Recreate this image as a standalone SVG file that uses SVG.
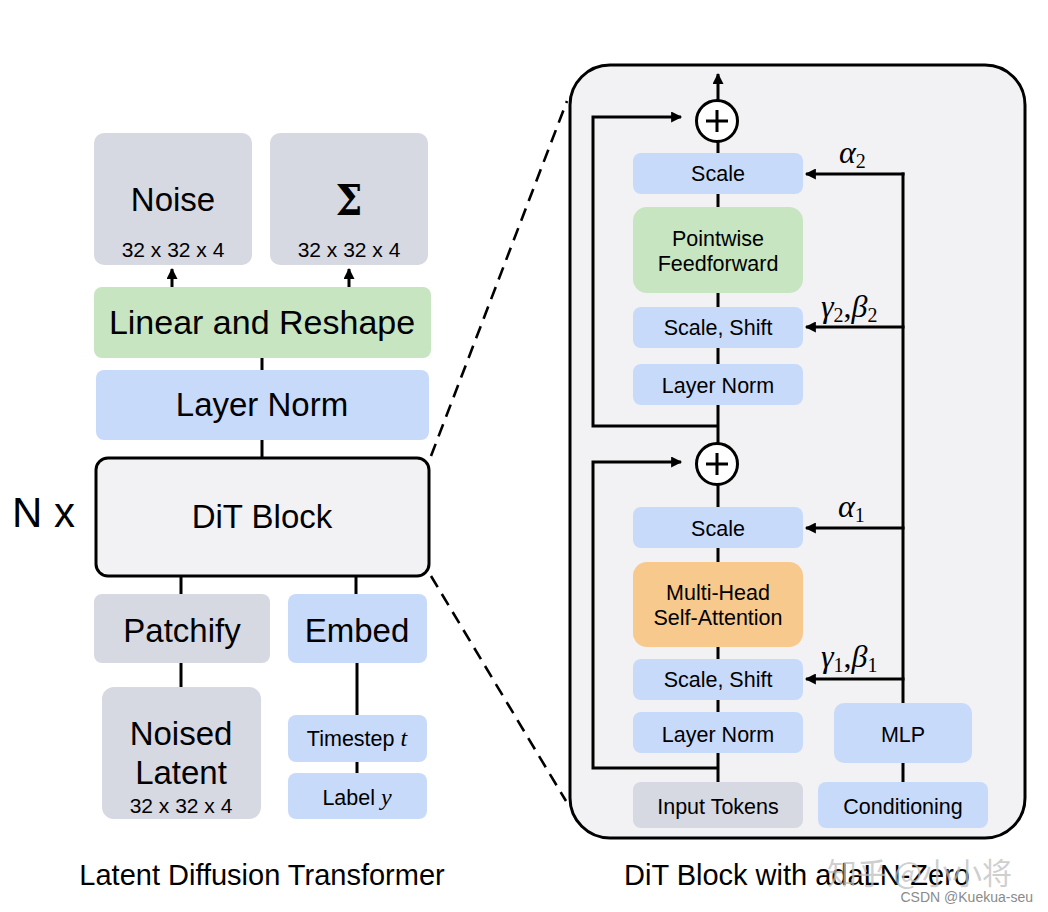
<svg xmlns="http://www.w3.org/2000/svg" width="1048" height="912" viewBox="0 0 1048 912">
<style>
.t{font-family:"Liberation Sans",Arial,sans-serif;fill:#000;text-anchor:middle}
.big{font-size:33px}
.mid{font-size:21.5px}
.ttl{font-size:29px}
.gray{fill:#d6d8e2}
.blue{fill:#c8dafa}
.green{fill:#c6e5c0}
.orange{fill:#f7c98c}
.ln{stroke:#000;stroke-width:3;fill:none}
.dash{stroke:#000;stroke-width:2.6;fill:none;stroke-dasharray:13 8}
.gk{font-family:"Liberation Serif","Times New Roman",serif;font-size:32px;fill:#000}
.sub{font-size:20px;font-style:normal}
.it{font-style:italic}
</style>
<defs>
<marker id="ah" viewBox="0 0 10 10" refX="9" refY="5" markerWidth="12" markerHeight="11" markerUnits="userSpaceOnUse" orient="auto">
<path d="M0,0 L10,5 L0,10 z" fill="#000"/>
</marker>
</defs>
<rect width="1048" height="912" fill="#fff"/>

<g id="connectors">
<line class="ln" x1="172" y1="287" x2="172" y2="269" marker-end="url(#ah)"/>
<line class="ln" x1="349" y1="287" x2="349" y2="269" marker-end="url(#ah)"/>
<line class="ln" x1="262" y1="358" x2="262" y2="370"/>
<line class="ln" x1="262" y1="440" x2="262" y2="458"/>
<line class="ln" x1="181" y1="576" x2="181" y2="594"/>
<line class="ln" x1="356" y1="576" x2="356" y2="594"/>
<line class="ln" x1="181" y1="663" x2="181" y2="687"/>
<line class="ln" x1="357" y1="663" x2="357" y2="715"/>
<line class="ln" x1="357" y1="762" x2="357" y2="773"/>
<line class="dash" x1="431" y1="456" x2="567" y2="101"/>
<line class="dash" x1="431" y1="576" x2="566" y2="801"/>
</g>

<g id="noise"><rect class="gray" x="94" y="133" width="158" height="132" rx="10"/>
<text class="t big" x="173" y="211">Noise</text>
<text class="t" style="font-size:21px" x="173" y="257">32 x 32 x 4</text></g>
<g id="sigma"><rect class="gray" x="270" y="133" width="158" height="132" rx="10"/>
<text x="349" y="215" style="font-family:'DejaVu Serif','Liberation Serif',serif;font-size:38px;font-weight:bold;text-anchor:middle" transform="translate(349 215) scale(1 1.12) translate(-349 -215)">Σ</text>
<text class="t" style="font-size:21px" x="349" y="257">32 x 32 x 4</text></g>
<g id="linear"><rect class="green" x="94" y="287" width="337" height="71" rx="8"/>
<text class="t" style="font-size:34px" x="262" y="334">Linear and Reshape</text></g>
<g id="layernorm"><rect class="blue" x="96" y="370" width="333" height="70" rx="8"/>
<text class="t big" x="262" y="416">Layer Norm</text></g>
<g id="nx"><text class="t" style="font-size:42px;text-anchor:start" x="12" y="527">N x</text></g>
<g id="ditblock"><rect x="96" y="458" width="333" height="118" rx="12" fill="#f2f2f4" stroke="#000" stroke-width="3"/>
<text class="t big" x="262" y="528">DiT Block</text></g>
<g id="patchify"><rect class="gray" x="94" y="594" width="176" height="69" rx="8"/>
<text class="t big" x="182" y="642">Patchify</text></g>
<g id="embed"><rect class="blue" x="288" y="594" width="139" height="69" rx="8"/>
<text class="t big" x="357" y="642">Embed</text></g>
<g id="noisedlatent"><rect class="gray" x="102" y="687" width="159" height="132" rx="12"/>
<text class="t big" x="181" y="745">Noised</text>
<text class="t big" x="181" y="784">Latent</text>
<text class="t" style="font-size:21px" x="181" y="813">32 x 32 x 4</text></g>
<g id="timestep"><rect class="blue" x="288" y="715" width="139" height="47" rx="8"/>
<text class="t mid" x="357" y="746">Timestep <tspan class="it" style="font-family:'Liberation Serif',serif;font-size:24px">t</tspan></text></g>
<g id="label"><rect class="blue" x="288" y="773" width="139" height="46" rx="8"/>
<text class="t mid" x="357" y="805">Label <tspan class="it" style="font-family:'Liberation Serif',serif;font-size:24px">y</tspan></text></g>
<g id="title-left"><text class="t ttl" x="262" y="885">Latent Diffusion Transformer</text></g>

<g id="panel"><rect x="570" y="65" width="455" height="773" rx="40" fill="#f2f2f4" stroke="#000" stroke-width="3"/></g>

<g id="connectors-right">
<line class="ln" x1="718" y1="100" x2="718" y2="74" marker-end="url(#ah)"/>
<polyline class="ln" points="718,426 593,426 593,117 681,117" marker-end="url(#ah)"/>
<line class="ln" x1="718" y1="142" x2="718" y2="153"/>
<line class="ln" x1="718" y1="194" x2="718" y2="207"/>
<line class="ln" x1="718" y1="293" x2="718" y2="307"/>
<line class="ln" x1="718" y1="348" x2="718" y2="364"/>
<line class="ln" x1="718" y1="405" x2="718" y2="443"/>
<polyline class="ln" points="718,768 593,768 593,462 681,462" marker-end="url(#ah)"/>
<line class="ln" x1="718" y1="485" x2="718" y2="507"/>
<line class="ln" x1="718" y1="548" x2="718" y2="562"/>
<line class="ln" x1="718" y1="647" x2="718" y2="659"/>
<line class="ln" x1="718" y1="700" x2="718" y2="712"/>
<line class="ln" x1="718" y1="753" x2="718" y2="782"/>
<line class="ln" x1="903" y1="703" x2="903" y2="172.5"/>
<line class="ln" x1="903" y1="763" x2="903" y2="782"/>
<line class="ln" x1="904.5" y1="174" x2="806" y2="174" marker-end="url(#ah)"/>
<line class="ln" x1="904.5" y1="327" x2="806" y2="327" marker-end="url(#ah)"/>
<line class="ln" x1="904.5" y1="528" x2="806" y2="528" marker-end="url(#ah)"/>
<line class="ln" x1="904.5" y1="679" x2="806" y2="679" marker-end="url(#ah)"/>
</g>

<g id="plus2"><circle cx="717" cy="121" r="20.5" fill="#fff" stroke="#000" stroke-width="3"/>
<path d="M706,121 H728 M717,110 V132" stroke="#000" stroke-width="3"/></g>
<g id="scale2"><rect class="blue" x="633" y="153" width="170" height="41" rx="8"/>
<text class="t mid" x="718" y="181">Scale</text></g>
<g id="ffn"><rect class="green" x="633" y="207" width="170" height="86" rx="14"/>
<text class="t mid" x="718" y="246">Pointwise</text>
<text class="t mid" x="718" y="271">Feedforward</text></g>
<g id="scaleshift2"><rect class="blue" x="633" y="307" width="170" height="41" rx="8"/>
<text class="t mid" x="718" y="335">Scale, Shift</text></g>
<g id="layernorm2"><rect class="blue" x="633" y="364" width="170" height="41" rx="8"/>
<text class="t mid" x="718" y="393">Layer Norm</text></g>
<g id="plus1"><circle cx="717" cy="464" r="20.5" fill="#fff" stroke="#000" stroke-width="3"/>
<path d="M706,464 H728 M717,453 V475" stroke="#000" stroke-width="3"/></g>
<g id="scale1"><rect class="blue" x="633" y="507" width="170" height="41" rx="8"/>
<text class="t mid" x="718" y="536">Scale</text></g>
<g id="mhsa"><rect class="orange" x="633" y="562" width="170" height="85" rx="14"/>
<text class="t mid" x="718" y="600">Multi-Head</text>
<text class="t mid" x="718" y="625">Self-Attention</text></g>
<g id="scaleshift1"><rect class="blue" x="633" y="659" width="170" height="41" rx="8"/>
<text class="t mid" x="718" y="687">Scale, Shift</text></g>
<g id="layernorm1"><rect class="blue" x="633" y="712" width="170" height="41" rx="8"/>
<text class="t mid" x="718" y="742">Layer Norm</text></g>
<g id="inputtokens"><rect class="gray" x="633" y="782" width="170" height="46" rx="8"/>
<text class="t mid" x="718" y="814">Input Tokens</text></g>
<g id="mlp"><rect class="blue" x="834" y="703" width="138" height="60" rx="10"/>
<text class="t mid" x="903" y="742">MLP</text></g>
<g id="conditioning"><rect class="blue" x="818" y="782" width="170" height="46" rx="8"/>
<text class="t mid" x="903" y="814">Conditioning</text></g>

<g id="labels">
<text class="gk" x="839" y="163"><tspan class="it">α</tspan><tspan class="sub" dy="5">2</tspan></text>
<text class="gk" x="821" y="317"><tspan class="it">γ</tspan><tspan class="sub" dy="5">2</tspan><tspan dy="-5">,</tspan><tspan class="it">β</tspan><tspan class="sub" dy="5">2</tspan></text>
<text class="gk" x="838" y="517"><tspan class="it">α</tspan><tspan class="sub" dy="5">1</tspan></text>
<text class="gk" x="821" y="667"><tspan class="it">γ</tspan><tspan class="sub" dy="5">1</tspan><tspan dy="-5">,</tspan><tspan class="it">β</tspan><tspan class="sub" dy="5">1</tspan></text>
</g>

<g id="title-right"><text class="t ttl" x="797" y="885">DiT Block with adaLN-Zero</text></g>
<g id="watermark">
<text x="827" y="884" style="font-family:'Noto Sans CJK SC',sans-serif;font-size:30px;fill:#bfbfbf;fill-opacity:0.75">知乎 @小小将</text>
<text x="1033" y="902" style="font-family:'Liberation Sans',Arial,sans-serif;font-size:14px;fill:#8a8a8a;text-anchor:end">CSDN @Kuekua-seu</text>
</g>
</svg>
